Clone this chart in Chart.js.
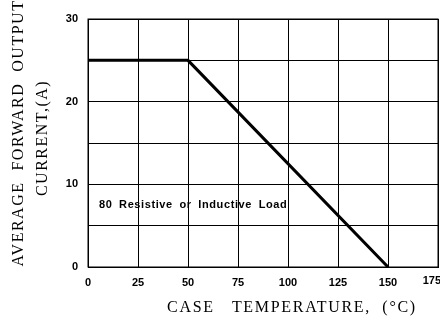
<!DOCTYPE html>
<html>
<head>
<meta charset="utf-8">
<script src="https://cdn.jsdelivr.net/npm/chart.js@4"></script>
<style>
  html, body { margin: 0; padding: 0; background: #fff; }
  #wrap { width: 440px; height: 326px; }
</style>
</head>
<body>
<div id="wrap"><canvas id="derating" width="440" height="326"></canvas></div>
<script>
// curve points
const caseTemp = [0, 50, 150];
const outputCurrent = [25, 25, 0];

// axis labels
const xTickLabels = [0, 25, 50, 75, 100, 125, 150, 175];
const yTickLabels = [0, 10, 20, 30];

const yTitleLines = ['AVERAGE  FORWARD  OUTPUT', 'CURRENT,(A)'];
const xTitle = 'CASE   TEMPERATURE,  (\u00B0C)';
const noteText = '80 Resistive or Inductive Load';

const tickFont = { family: 'Liberation Sans', size: 11, weight: 'bold' };
const lastX = xTickLabels[xTickLabels.length - 1];

// draws the axis titles, the load note and the clipped last x label
const textPlugin = {
  id: 'extraText',
  afterDraw(chart) {
    const c = chart.ctx;
    const y = chart.scales.y;
    c.save();
    c.fillStyle = '#000';
    c.textBaseline = 'middle';
    c.textAlign = 'center';

    c.font = '16px "Liberation Serif"';
    c.letterSpacing = '1.7px';
    c.fillText(xTitle, 292, 308);

    c.letterSpacing = '1.5px';
    c.save();
    c.translate(19, 133);
    c.rotate(-Math.PI / 2);
    c.fillText(yTitleLines[0], 0, 0);
    c.restore();
    c.save();
    c.translate(43, 138);
    c.rotate(-Math.PI / 2);
    c.fillText(yTitleLines[1], 0, 0);
    c.restore();

    c.letterSpacing = '0.6px';
    c.wordSpacing = '3px';
    c.font = 'bold 11px "Liberation Sans"';
    c.textAlign = 'left';
    c.fillText(noteText, 99, y.getPixelForValue(7.5));

    c.letterSpacing = '0px';
    c.wordSpacing = '0px';
    c.textAlign = 'right';
    c.fillText(String(lastX), 441, 281);
    c.restore();
  }
};

new Chart(document.getElementById('derating'), {
  type: 'scatter',
  data: {
    datasets: [{
      data: caseTemp.map((t, i) => ({ x: t, y: outputCurrent[i] })),
      showLine: true,
      borderColor: '#000',
      borderWidth: 3,
      pointRadius: 0,
      tension: 0
    }]
  },
  options: {
    responsive: false,
    animation: false,
    layout: { padding: { top: 19, right: 2, left: 0, bottom: 0 } },
    plugins: { legend: { display: false }, tooltip: { enabled: false } },
    scales: {
      x: {
        type: 'linear',
        min: xTickLabels[0],
        max: lastX,
        afterBuildTicks: s => { s.ticks = xTickLabels.map(v => ({ value: v })); },
        ticks: {
          color: '#000',
          font: tickFont,
          maxRotation: 0,
          padding: 9,
          callback: v => v === lastX ? '' : String(v)
        },
        grid: { color: '#000', lineWidth: 1, drawTicks: false },
        border: { color: '#000', width: 1 },
        afterFit: s => { s.height = 59; s.paddingLeft = 0; s.paddingRight = 0; }
      },
      y: {
        type: 'linear',
        min: 0,
        max: 30,
        ticks: {
          stepSize: 5,
          color: '#000',
          font: tickFont,
          padding: 10,
          callback: v => yTickLabels.includes(v) ? String(v) : ''
        },
        grid: { color: '#000', lineWidth: 1, drawTicks: false },
        border: { color: '#000', width: 1 },
        afterFit: s => { s.width = 88; s.paddingTop = 0; s.paddingBottom = 0; }
      }
    }
  },
  plugins: [textPlugin, {
    id: 'frame',
    afterDatasetsDraw(chart) {
      const a = chart.chartArea;
      const c = chart.ctx;
      c.save();
      c.strokeStyle = '#000';
      c.lineWidth = 1;
      c.strokeRect(a.left, a.top, a.right - a.left, a.bottom - a.top);
      c.restore();
    }
  }]
});
</script>
</body>
</html>
